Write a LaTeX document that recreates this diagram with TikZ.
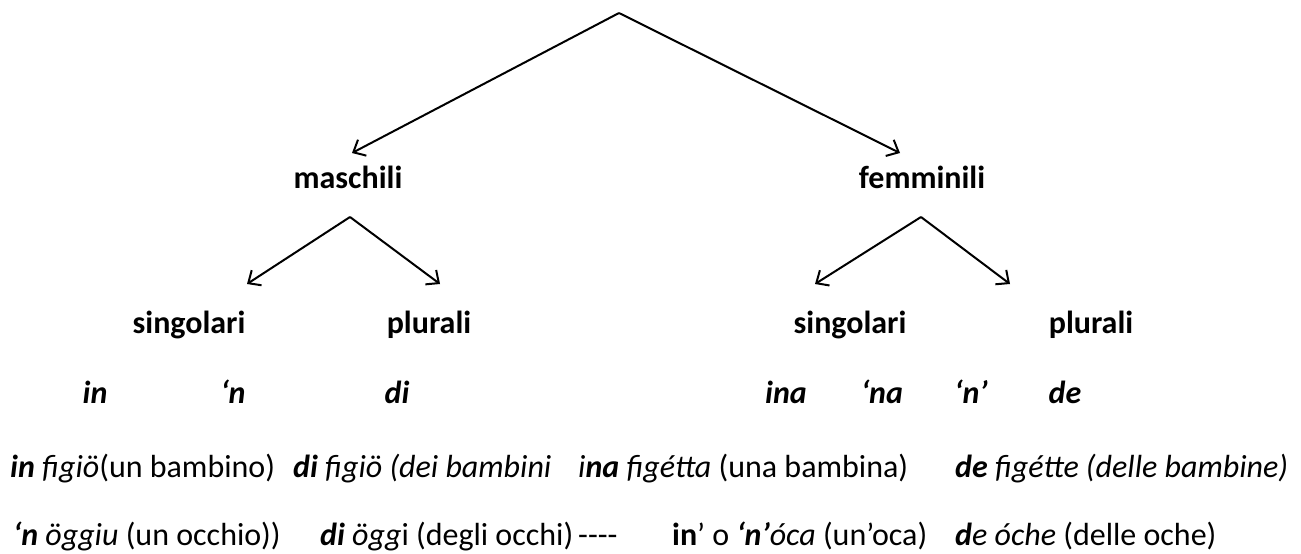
\documentclass[tikz,border=0pt]{standalone}
\usepackage{fontspec}
\setmainfont{Carlito}
\usetikzlibrary{arrows.meta}
\tikzset{
  arr/.style={line width=2pt,-{Straight Barb[length=10pt,width=18pt,line width=2pt]}},
  lbl/.style={inner sep=0pt,anchor=base,font=\fontsize{32}{38}\selectfont\bfseries},
  form/.style={inner sep=0pt,anchor=base,font=\fontsize{32}{38}\selectfont\bfseries\itshape},
  ex/.style={inner sep=0pt,anchor=base west,font=\fontsize{32}{38}\selectfont}
}
\begin{document}
\begin{tikzpicture}[x=1pt,y=-1pt]
\useasboundingbox[fill=white] (0,0) rectangle (1301,554);
% level 1
\coordinate (top) at (619,13);
\coordinate (mtip) at (352,153);
\coordinate (ftip) at (900,153);
\node[lbl] (masc) at (348,188) {maschili};
\node[lbl] (femm) at (922,188) {femminili};
\draw[arr] (top) -- (mtip);
\draw[arr] (top) -- (ftip);
% level 2
\coordinate (mtop) at (350,217);
\coordinate (mstip) at (247,284);
\coordinate (mptip) at (440,284);
\coordinate (ftop) at (921,217);
\coordinate (fstip) at (815,284);
\coordinate (fptip) at (1010,284);
\draw[arr] (mtop) -- (mstip);
\draw[arr] (mtop) -- (mptip);
\draw[arr] (ftop) -- (fstip);
\draw[arr] (ftop) -- (fptip);
\node[lbl] (msing) at (189,333) {singolari};
\node[lbl] (mplur) at (429,333) {plurali};
\node[lbl] (fsing) at (850,333) {singolari};
\node[lbl] (fplur) at (1091,333) {plurali};
% forms
\node[form] (f1) at (95,403) {in};
\node[form] (f2) at (233,403) {‘n};
\node[form] (f3) at (397,403) {di};
\node[form] (f4) at (786,403) {ina};
\node[form] (f5) at (882,403) {‘na};
\node[form] (f6) at (971,403) {‘n’};
\node[form] (f7) at (1065,403) {de};
% examples row 1
\node[ex] (e1) at (10,477) {\textbf{\textit{in}} \textit{figiö}(un bambino)};
\node[ex] (e2) at (293,477) {\textbf{\textit{di}} \textit{figiö (dei bambini}};
\node[ex] (e3) at (578,477) {\textit{i\textbf{na}} \textit{figétta} (una bambina)};
\node[ex] (e4) at (955,477) {\textbf{\textit{de}} \textit{figétte (delle bambine)}};
% examples row 2
\node[ex] (e5) at (13,545) {\textbf{\textit{‘n}} \textit{öggiu} (un occhio))};
\node[ex] (e6) at (320,545) {\textbf{\textit{di}} \textit{ögg}i (degli occhi)\hspace{5pt}-{}-{}-{}-};
\node[ex] (e7) at (672,545) {\textbf{in}’ o \textbf{\textit{‘n’}}\textit{óca} (un’oca)};
\node[ex] (e8) at (955,545) {\textbf{\textit{d}}\textit{e óche} (delle oche)};
\end{tikzpicture}
\end{document}
